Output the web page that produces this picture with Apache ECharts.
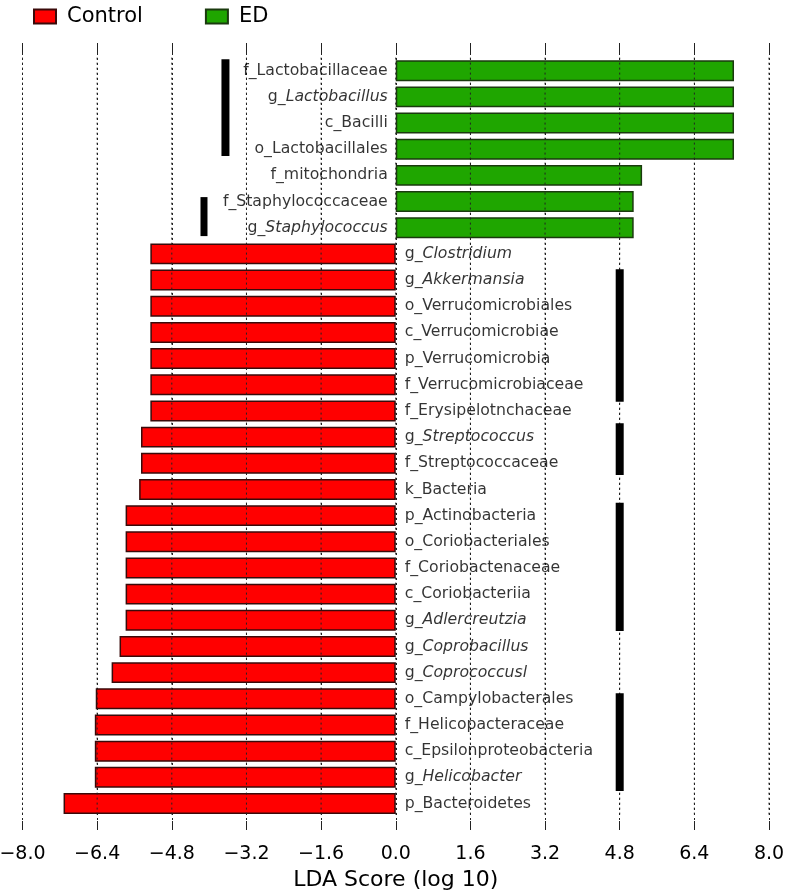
<!DOCTYPE html>
<html>
<head>
<meta charset="utf-8">
<script src="https://cdn.jsdelivr.net/npm/echarts@6/dist/echarts.min.js"></script>
<style>html,body{margin:0;padding:0;background:#fff}#c{width:785px;height:892px}</style>
</head>
<body>
<div id="c"></div>
<script>
var categories = ['f_Lactobacillaceae','g_Lactobacillus','c_Bacilli','o_Lactobacillales','f_mitochondria','f_Staphylococcaceae','g_Staphylococcus','g_Clostridium','g_Akkermansia','o_Verrucomicrobiales','c_Verrucomicrobiae','p_Verrucomicrobia','f_Verrucomicrobiaceae','f_Erysipelotnchaceae','g_Streptococcus','f_Streptococcaceae','k_Bacteria','p_Actinobacteria','o_Coriobacteriales','f_Coriobactenaceae','c_Coriobacteriia','g_Adlercreutzia','g_Coprobacillus','g_Coprococcusl','o_Campylobacterales','f_Helicopacteraceae','c_Epsilonproteobacteria','g_Helicobacter','p_Bacteroidetes'];
var ldaScores = [7.25,7.25,7.25,7.25,5.28,5.10,5.10,-5.26,-5.26,-5.26,-5.26,-5.26,-5.26,-5.26,-5.46,-5.46,-5.50,-5.79,-5.79,-5.79,-5.79,-5.79,-5.92,-6.09,-6.43,-6.45,-6.45,-6.45,-7.12];
var xTicks = [-8.0,-6.4,-4.8,-3.2,-1.6,0.0,1.6,3.2,4.8,6.4,8.0];
var markerX = [-3.65,-4.11,4.8,4.8,4.8,4.8];
var markerFrom = [-0.44,4.83,7.59,13.47,16.51,23.79];
var markerTo = [3.26,6.32,12.65,15.45,21.41,27.52];

var controlData = ldaScores.map(function(v){return v<0?v:'-';});
var edData = ldaScores.map(function(v){return v>0?v:'-';});

function fmtTick(v){
  var s = Math.abs(v).toFixed(1);
  return (v < -1e-9 ? '\u2212' : '') + s;
}
function labelText(name){
  if (name.indexOf('g_') === 0) return '{n|g_}{i|' + name.slice(2) + '}';
  return '{n|' + name + '}';
}
var FONT = 'DejaVu Sans';
var rich = {
  n:{fontFamily:FONT,fontSize:15.7,color:'#000'},
  i:{fontFamily:FONT,fontSize:15.7,color:'#000',fontStyle:'italic'}
};

var series = [
  {name:'Control',type:'bar',xAxisIndex:2,yAxisIndex:1,data:controlData,barGap:'-100%',barCategoryGap:'20%',z:2,
   itemStyle:{color:'#ff0000',borderColor:'#3a0a0a',borderWidth:1.5},silent:true},
  {name:'ED',type:'bar',xAxisIndex:2,yAxisIndex:1,data:edData,barGap:'-100%',barCategoryGap:'20%',z:2,
   itemStyle:{color:'#1fa600',borderColor:'#1a3a0e',borderWidth:1.5},silent:true},
  // dotted grid lines drawn over the bars (as in the reference)
  {type:'custom',xAxisIndex:2,yAxisIndex:2,silent:true,z:4,clip:false,
   data:xTicks.map(function(v){return [v,0];}),
   encode:{x:0,y:1},
   renderItem:function(params,api){
     var x = api.value(0);
     var p1 = api.coord([x,-0.5]);
     var p2 = api.coord([x,28.5]);
     return {type:'line',shape:{x1:p1[0],y1:p1[1],x2:p2[0],y2:p2[1]},
       style:{stroke:'#222',lineWidth:1,lineDash:[2,3]}};
   }},
  {type:'scatter',xAxisIndex:2,yAxisIndex:1,symbolSize:0,silent:true,z:6,
   data:categories.map(function(c,i){
     var neg = ldaScores[i] < 0;
     return {value:[0,c],label:{show:true,position:neg?'right':'left',distance:neg?9:8,
       color:'#000',formatter:labelText(c),rich:rich}};
   })}
];
markerX.forEach(function(x,k){
  series.push({type:'line',xAxisIndex:2,yAxisIndex:2,symbol:'none',silent:true,z:5,
    data:[[x,markerFrom[k]],[x,markerTo[k]]],
    lineStyle:{color:'#000',width:k===1?7:8,cap:'butt'}});
});

var option = {
  animation:false,
  backgroundColor:'#fff',
  legend:{top:1,left:28,itemWidth:22,itemHeight:14,itemGap:62,icon:'rect',
    data:['Control','ED'],
    textStyle:{fontFamily:FONT,fontSize:21,color:'#000',padding:[0,0,0,6]}},
  grid:[
    {left:22.5,right:16,top:43,bottom:62,outerBoundsMode:'none',containLabel:false},
    {left:22.5,right:16,top:57.6,bottom:75.4,outerBoundsMode:'none',containLabel:false}
  ],
  xAxis:[
    {gridIndex:0,type:'value',min:-8,max:8,interval:1.6,position:'bottom',
     axisLine:{show:false},
     axisTick:{show:true,inside:true,length:9,lineStyle:{color:'#222'}},
     axisLabel:{formatter:fmtTick,fontFamily:FONT,fontSize:19,color:'#000',margin:15},
     splitLine:{show:true,lineStyle:{color:'#222',type:[2,3],width:1}},
     name:'LDA Score (log 10)',nameLocation:'middle',nameGap:39,
     nameTextStyle:{fontFamily:FONT,fontSize:22,color:'#000'}},
    {gridIndex:0,type:'value',min:-8,max:8,interval:1.6,position:'top',
     axisLine:{show:false},
     axisTick:{show:true,inside:true,length:10,lineStyle:{color:'#222'}},
     axisLabel:{show:false},splitLine:{show:false}},
    {gridIndex:1,type:'value',min:-8,max:8,interval:1.6,show:false}
  ],
  yAxis:[
    {gridIndex:0,type:'value',show:false,min:0,max:1},
    {gridIndex:1,type:'category',data:categories,inverse:true,show:false},
    {gridIndex:1,type:'value',min:-0.5,max:28.5,inverse:true,show:false}
  ],
  series:series
};
var chart = echarts.init(document.getElementById('c'));
chart.setOption(option);
</script>
</body>
</html>
